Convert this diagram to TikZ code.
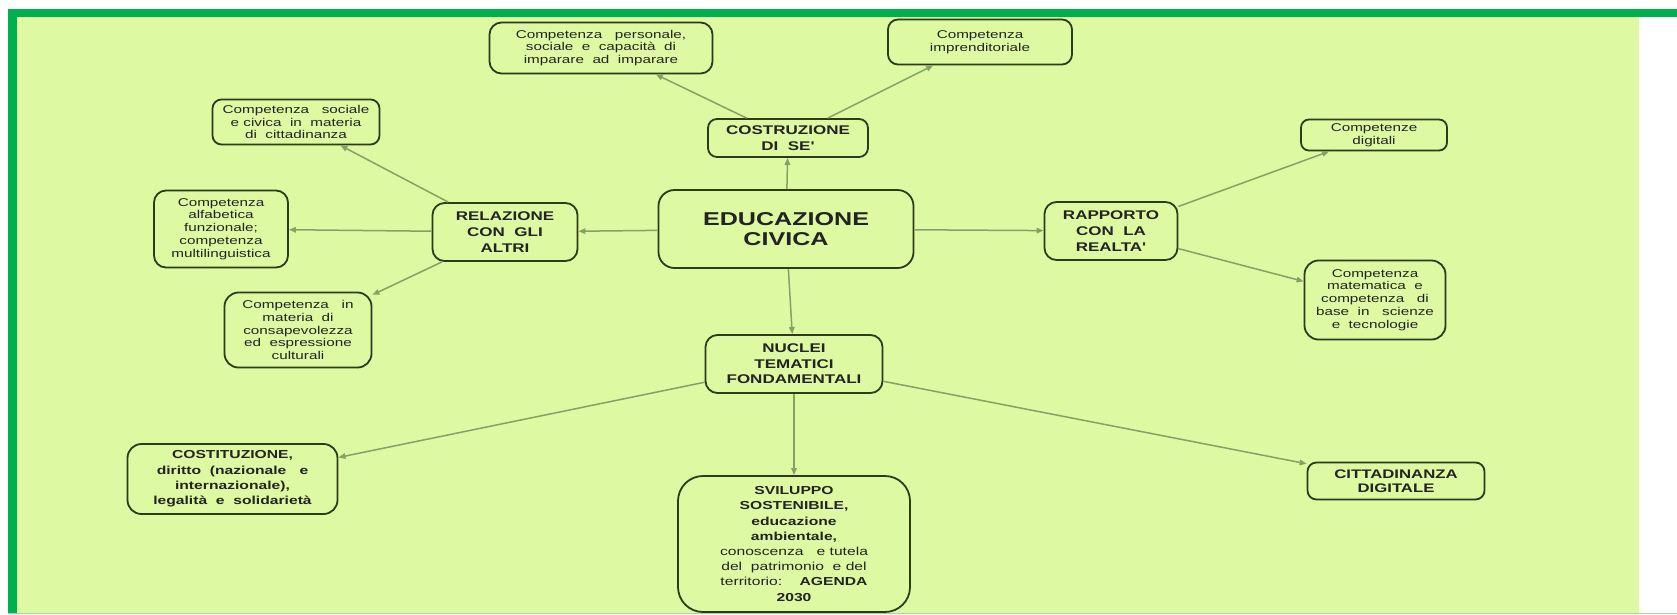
\documentclass[tikz,border=0pt]{standalone}
\usepackage{fontspec}
\usetikzlibrary{arrows.meta}
\newfontfamily\ff[FakeStretch=1.35]{Liberation Sans}
\definecolor{bargreen}{RGB}{0,176,80}
\definecolor{paper}{RGB}{221,249,162}
\definecolor{edge}{RGB}{45,58,28}
\definecolor{link}{RGB}{132,162,100}
\definecolor{ink}{RGB}{35,35,35}
\definecolor{mint}{RGB}{150,225,150}
\tikzset{
  box/.style={draw=edge, line width=1.8pt, fill=paper, rounded corners=#1,
    inner sep=0pt, align=center, text=ink},
  box/.default=11pt,
  small/.style={font=\ff\fontsize{11.3}{12.8}\selectfont},
  bigb/.style={font=\ff\bfseries\fontsize{12.6}{16}\selectfont},
  conn/.style={draw=link, line width=1.5pt, -{Triangle[length=7pt,width=5.5pt]}},
}
\begin{document}
\begin{tikzpicture}[x=1pt,y=-1pt]
\useasboundingbox (0,0) rectangle (1677,614);
\fill[white] (0,0) rectangle (1677,614);
\fill[paper] (17,17) rectangle (1639,614);
\fill[bargreen] (8,9) rectangle (1677,17);
\fill[bargreen] (8,9) rectangle (17,614);
\fill[mint] (8,612.5) rectangle (1677,614);

% central
\node[box=16pt, minimum width=255pt, minimum height=78pt,
  font=\ff\bfseries\fontsize{18.6}{20}\selectfont] (ec) at (786,229) {EDUCAZIONE\\CIVICA};

% second level
\node[box=9pt, bigb, minimum width=160pt, minimum height=38pt] (costr) at (788,138)
  {COSTRUZIONE\\DI\ \ SE'};
\node[box=12pt, bigb, minimum width=145pt, minimum height=58pt] (rel) at (505,232)
  {RELAZIONE\\CON\ \ GLI\\ALTRI};
\node[box=12pt, bigb, minimum width=133pt, minimum height=58pt] (rapp) at (1111,231)
  {RAPPORTO\\CON\ \ LA\\REALTA'};
\node[box=12pt, minimum width=177pt, minimum height=58pt,
  font=\ff\bfseries\fontsize{12.6}{15.5}\selectfont] (nuc) at (794,364)
  {NUCLEI\\TEMATICI\\FONDAMENTALI};

% competences
\node[box=12pt, small, minimum width=223pt, minimum height=51pt] (pers) at (601,48)
  {Competenza\ \ \ personale,\\sociale\ \ e\ \ capacità\ \ di\\imparare\ \ ad\ \ imparare};
\node[box=10pt, small, minimum width=184pt, minimum height=45pt] (impr) at (980,42)
  {Competenza\\imprenditoriale};
\node[box=9pt, small, minimum width=167pt, minimum height=45pt] (soc) at (296,122)
  {Competenza\ \ \ sociale\\e\ civica\ \ in\ \ materia\\di\ \ cittadinanza};
\node[box=12pt, small, minimum width=134pt, minimum height=77pt] (alf) at (221,229)
  {Competenza\\alfabetica\\funzionale;\\competenza\\multilinguistica};
\node[box=14pt, small, minimum width=147pt, minimum height=75pt] (cons) at (298,330)
  {Competenza\ \ \ in\\materia\ \ di\\consapevolezza\\ed\ \ espressione\\culturali};
\node[box=8pt, small, minimum width=146pt, minimum height=31pt] (dig) at (1374,135)
  {Competenze\\digitali};
\node[box=14pt, small, minimum width=141pt, minimum height=79pt] (mat) at (1375,300)
  {Competenza\\matematica\ \ e\\competenza\ \ \ di\\base\ \ in\ \ \ scienze\\e\ \ tecnologie};

% nuclei
\node[box=14pt, minimum width=210pt, minimum height=70pt,
  font=\ff\bfseries\fontsize{11.6}{15.3}\selectfont] (cost) at (232.5,479)
  {COSTITUZIONE,\\diritto\ \ (nazionale\ \ \ e\\internazionale),\\legalità\ \ e\ \ solidarietà};
\node[box=25pt, minimum width=232pt, minimum height=136pt,
  font=\ff\fontsize{11.6}{15.2}\selectfont] (svil) at (794,544)
  {\bfseries SVILUPPO\\\bfseries SOSTENIBILE,\\\bfseries educazione\\\bfseries ambientale,\\
   conoscenza\ \ \ e\ tutela\\del\ \ patrimonio\ \ e\ del\\territorio:\ \ \ \ \textbf{AGENDA}\\\bfseries 2030};
\node[box=9pt, minimum width=177pt, minimum height=37pt,
  font=\ff\bfseries\fontsize{12.4}{14}\selectfont] (citt) at (1396,481)
  {CITTADINANZA\\DIGITALE};

% connectors
\draw[conn] (ec) -- (costr);
\draw[conn] (ec) -- (rel);
\draw[conn] (ec) -- (rapp);
\draw[conn] (ec) -- (nuc);
\draw[conn] (costr) -- (pers);
\draw[conn] (costr) -- (impr);
\draw[conn] (rel) -- (soc);
\draw[conn] (rel) -- (alf);
\draw[conn] (rel) -- (cons);
\draw[conn] (rapp) -- (dig);
\draw[conn] (rapp) -- (mat);
\draw[conn] (nuc) -- (cost);
\draw[conn] (nuc) -- (svil);
\draw[conn] (nuc) -- (citt);
\end{tikzpicture}
\end{document}
